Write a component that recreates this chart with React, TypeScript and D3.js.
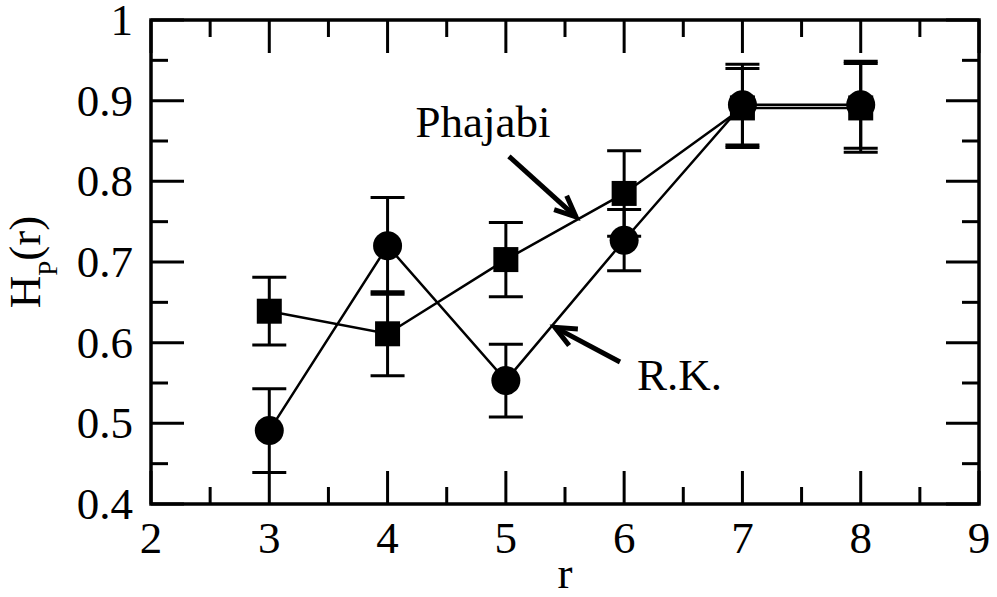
import React from "react"
import * as d3 from "d3"

const width = 997
const height = 597
const margin = { top: 20, right: 18, bottom: 93, left: 151 }

// data
const rValues = [3, 4, 5, 6, 7, 8]
const phajabi = [0.639, 0.611, 0.703, 0.785, 0.891, 0.891]
const phajabiErr = [0.042, 0.052, 0.046, 0.053, 0.049, 0.055]
const rk = [0.491, 0.72, 0.553, 0.727, 0.895, 0.895]
const rkErr = [0.052, 0.06, 0.045, 0.038, 0.05, 0.054]

const xTicks = [2, 3, 4, 5, 6, 7, 8, 9]
const yTicks = [0.4, 0.5, 0.6, 0.7, 0.8, 0.9, 1]
const yTickLabels = ["0.4", "0.5", "0.6", "0.7", "0.8", "0.9", "1"]

// annotation positions, in data units
const phajabiArrow = { from: [5.026, 0.831], to: [5.593, 0.756] }
const phajabiLabel = [4.807, 0.855]
const rkArrow = { from: [5.965, 0.576], to: [5.415, 0.619] }
const rkLabel = [6.109, 0.541]

const font = "'Liberation Serif', 'Times New Roman', serif"

const App = () => {
  const x = d3
    .scaleLinear()
    .domain([2, 9])
    .range([margin.left, width - margin.right])
  const y = d3
    .scaleLinear()
    .domain([0.4, 1])
    .range([height - margin.bottom, margin.top])

  const x0 = x.range()[0]
  const x1 = x.range()[1]
  const y0 = y.range()[0]
  const y1 = y.range()[1]

  const line = d3
    .line<number>()
    .x((d, i) => x(rValues[i]))
    .y(d => y(d))

  const xMinor = d3.range(2.5, 9, 1)
  const yMinor = d3.range(0.45, 1, 0.1)

  const majorLen = 33
  const minorLen = 17

  const arrow = (a, key) => {
    const [tx, ty] = [x(a.to[0]), y(a.to[1])]
    const [fx, fy] = [x(a.from[0]), y(a.from[1])]
    const ang = Math.atan2(fy - ty, fx - tx)
    const hl = 23
    const da = (24 * Math.PI) / 180
    const h1 = [tx + hl * Math.cos(ang + da), ty + hl * Math.sin(ang + da)]
    const h2 = [tx + hl * Math.cos(ang - da), ty + hl * Math.sin(ang - da)]
    return (
      <g key={key} stroke="#000" strokeWidth={5} fill="none">
        <line x1={fx} y1={fy} x2={tx} y2={ty} />
        <path d={`M${h1[0]},${h1[1]}L${tx},${ty}L${h2[0]},${h2[1]}`} />
      </g>
    )
  }

  const errorBars = (vals, errs, key) => (
    <g key={key} stroke="#000" strokeWidth={3}>
      {vals.map((v, i) => {
        const cx = x(rValues[i])
        return (
          <g key={i}>
            <line x1={cx} x2={cx} y1={y(v + errs[i])} y2={y(v - errs[i])} />
            <line x1={cx - 17} x2={cx + 17} y1={y(v + errs[i])} y2={y(v + errs[i])} />
            <line x1={cx - 17} x2={cx + 17} y1={y(v - errs[i])} y2={y(v - errs[i])} />
          </g>
        )
      })}
    </g>
  )

  return (
    <>
      <style>{`body{margin:0}`}</style>
      <svg width={width} height={height} style={{ display: "block", background: "#fff" }}>
        {/* ticks */}
        <g stroke="#000" strokeWidth={3}>
          {xTicks.map(t => (
            <g key={"xt" + t}>
              <line x1={x(t)} x2={x(t)} y1={y0} y2={y0 - majorLen} />
              <line x1={x(t)} x2={x(t)} y1={y1} y2={y1 + majorLen} />
            </g>
          ))}
          {xMinor.map(t => (
            <g key={"xm" + t}>
              <line x1={x(t)} x2={x(t)} y1={y0} y2={y0 - minorLen} />
              <line x1={x(t)} x2={x(t)} y1={y1} y2={y1 + minorLen} />
            </g>
          ))}
          {yTicks.map(t => (
            <g key={"yt" + t}>
              <line x1={x0} x2={x0 + majorLen} y1={y(t)} y2={y(t)} />
              <line x1={x1} x2={x1 - majorLen} y1={y(t)} y2={y(t)} />
            </g>
          ))}
          {yMinor.map(t => (
            <g key={"ym" + t}>
              <line x1={x0} x2={x0 + minorLen} y1={y(t)} y2={y(t)} />
              <line x1={x1} x2={x1 - minorLen} y1={y(t)} y2={y(t)} />
            </g>
          ))}
        </g>
        <rect x={x0} y={y1} width={x1 - x0} height={y0 - y1} fill="none" stroke="#000" strokeWidth={3.5} />

        {/* tick labels */}
        <g fontFamily={font} fontSize={45} fill="#000">
          {xTicks.map(t => (
            <text key={"xl" + t} x={x(t)} y={553} textAnchor="middle">
              {t}
            </text>
          ))}
          {yTicks.map((t, i) => (
            <text key={"yl" + t} x={x0 - 18} y={y(t) + 15} textAnchor="end">
              {yTickLabels[i]}
            </text>
          ))}
        </g>

        {/* axis titles */}
        <text x={x(5.5)} y={588} fontFamily={font} fontSize={45} textAnchor="middle">
          r
        </text>
        <text
          transform={`translate(40,${(y0 + y1) / 2}) rotate(-90)`}
          fontFamily={font}
          fontSize={45}
          textAnchor="middle"
        >
          H
          <tspan fontSize={27} dy={17}>
            P
          </tspan>
          <tspan dy={-17}>(r)</tspan>
        </text>

        {/* series lines */}
        <path d={line(rk) || ""} fill="none" stroke="#000" strokeWidth={2.5} />
        <path d={line(phajabi) || ""} fill="none" stroke="#000" strokeWidth={2.5} />

        {errorBars(rk, rkErr, "rkErr")}
        {errorBars(phajabi, phajabiErr, "phErr")}

        {/* markers */}
        {rk.map((v, i) => (
          <circle key={"c" + i} cx={x(rValues[i])} cy={y(v)} r={14.5} fill="#000" />
        ))}
        {phajabi.map((v, i) => (
          <rect key={"s" + i} x={x(rValues[i]) - 12.5} y={y(v) - 12.5} width={25} height={25} fill="#000" />
        ))}

        {/* annotations */}
        {arrow(phajabiArrow, "a1")}
        {arrow(rkArrow, "a2")}
        <text x={x(phajabiLabel[0])} y={y(phajabiLabel[1])} fontFamily={font} fontSize={45} textAnchor="middle">
          Phajabi
        </text>
        <text x={x(rkLabel[0])} y={y(rkLabel[1])} fontFamily={font} fontSize={45}>
          R.K.
        </text>
      </svg>
    </>
  )
}

export default App
